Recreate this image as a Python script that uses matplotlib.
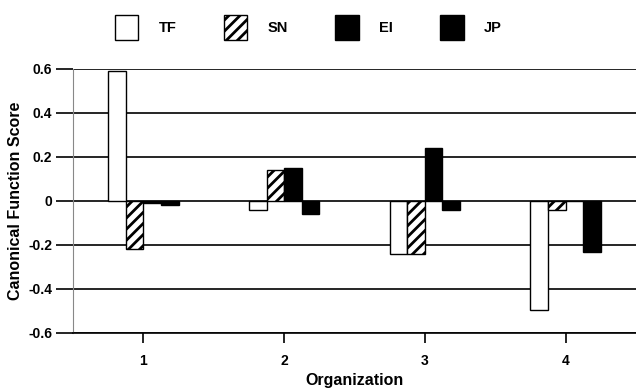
import numpy as np
import matplotlib.pyplot as plt
from matplotlib.patches import Patch

plt.rcParams['font.family'] = ['Liberation Sans', 'DejaVu Sans']
plt.rcParams['hatch.linewidth'] = 2.0

organizations = [1, 2, 3, 4]
series_names = ["TF", "SN", "EI", "JP"]
tf = [0.59, -0.04, -0.24, -0.495]
sn = [-0.22, 0.14, -0.24, -0.04]
ei = [-0.01, 0.15, 0.24, 0.0]
jp = [-0.02, -0.06, -0.04, -0.23]
yticks = [-0.6, -0.4, -0.2, 0, 0.2, 0.4, 0.6]
ytick_labels = ["-0.6", "-0.4", "-0.2", "0", "0.2", "0.4", "0.6"]

fig = plt.figure(figsize=(6.36, 3.92), dpi=100)
ax = fig.add_axes([73 / 636, 1 - 333 / 392, 563 / 636, 264 / 392])

x = np.array(organizations, dtype=float)
w = 0.125
styles = [
    dict(facecolor="white", edgecolor="black", hatch=None),
    dict(facecolor="white", edgecolor="black", hatch="///"),
    dict(facecolor="black", edgecolor="black", hatch=None),
    dict(facecolor="black", edgecolor="black", hatch=None),
]
for i, vals in enumerate([tf, sn, ei, jp]):
    ax.bar(x + (i - 1.5) * w, vals, width=w, linewidth=1.0, zorder=3,
           **styles[i])

for yv in yticks:
    ax.axhline(yv, color="black", linewidth=1.2, zorder=1)

ax.set_xlim(0.5, 4.5)
ax.set_ylim(-0.6, 0.6)
ax.set_xticks(organizations)
ax.set_xticklabels([str(o) for o in organizations], fontweight="bold", fontsize=10)
ax.set_yticks(yticks)
ax.set_yticklabels(ytick_labels, fontweight="bold", fontsize=10)
ax.tick_params(axis="y", length=12, width=1.2, pad=3)
ax.tick_params(axis="x", length=7, width=1.2, pad=8)

for s in ["top", "right"]:
    ax.spines[s].set_visible(False)
ax.spines["left"].set_color("#888888")
ax.spines["bottom"].set_linewidth(1.2)

ax.set_ylabel("Canonical Function Score", fontweight="bold", fontsize=11.5, labelpad=4)
ax.set_xlabel("Organization", fontweight="bold", fontsize=11.5, labelpad=4)

handles = [Patch(linewidth=1.0, **st) for st in styles]
fig.legend(handles, series_names, loc="upper center", ncol=4,
           bbox_to_anchor=(0.485, 0.995), frameon=False,
           prop=dict(weight="bold", size=10.5),
           handlelength=1.6, handleheight=2.2, columnspacing=3.25,
           handletextpad=1.4)

fig.savefig("out.png", dpi=100)
